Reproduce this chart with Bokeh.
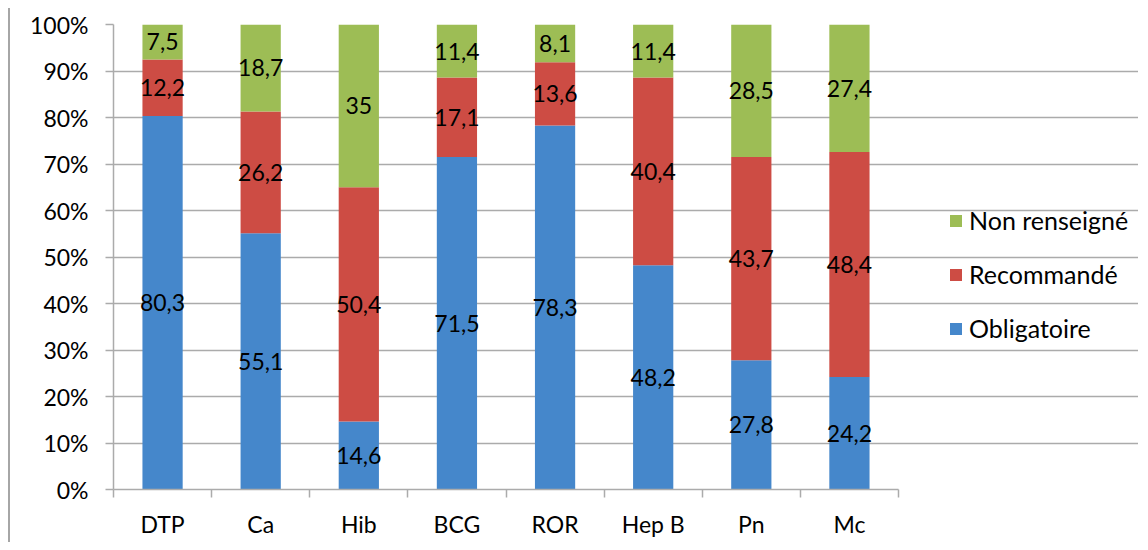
import numpy as np
from bokeh.plotting import figure
from bokeh.models import (ColumnDataSource, FixedTicker, Legend, LegendItem,
                          Range1d)
from bokeh.core.properties import value
from bokeh.embed import file_html
from bokeh.resources import INLINE

categories = ["DTP", "Ca", "Hib", "BCG", "ROR", "Hep B", "Pn", "Mc"]
obligatoire = [80.3, 55.1, 14.6, 71.5, 78.3, 48.2, 27.8, 24.2]
recommande = [12.2, 26.2, 50.4, 17.1, 13.6, 40.4, 43.7, 48.4]
non_renseigne = [7.5, 18.7, 35.0, 11.4, 8.1, 11.4, 28.5, 27.4]
series_names = ["Obligatoire", "Recommandé", "Non renseigné"]
y_ticks = [0, 10, 20, 30, 40, 50, 60, 70, 80, 90, 100]

colors = ["#4587CB", "#CD4C44", "#9DBD55"]
FONT = "Lato"
FS = "23px"

W, H = 1130, 534
LEFT, PLOT_W = 103, 785          # plotting area of the categories, in px
n = len(categories)
x_end = n * (W - LEFT) / PLOT_W  # extra room on the right for the legend

xpos = np.arange(n) + 0.5
src = ColumnDataSource(dict(x=xpos, Obligatoire=obligatoire,
                            Recommande=recommande, Non=non_renseigne))

p = figure(width=W, height=H, output_backend="svg", toolbar_location=None,
           x_range=Range1d(0, x_end), y_range=Range1d(0, 100),
           min_border_left=LEFT, min_border_right=0,
           min_border_top=16, min_border_bottom=53)
p.styles = {"margin-left": "8px", "margin-top": "8px",
            "border-left": "2px solid #A6A6A6"}
p.outline_line_color = None
p.xgrid.visible = False
p.ygrid.grid_line_color = "#ABABAB"
p.ygrid.grid_line_width = 1.5
p.ygrid.ticker = FixedTicker(ticks=y_ticks)
p.ygrid.bounds = (0, n)

rs = p.vbar_stack(["Obligatoire", "Recommande", "Non"], x="x", width=0.41,
                  source=src, fill_color=colors, line_color=None)

# data labels centred in each segment
vals = np.array([obligatoire, recommande, non_renseigne])
cum = np.cumsum(vals, axis=0)
mids = cum - vals / 2
def fmt(v):
    s = ("%.1f" % v).rstrip("0").rstrip(".")
    return s.replace(".", ",")
lx, ly, lt = [], [], []
for k in range(3):
    for i in range(n):
        lx.append(xpos[i]); ly.append(mids[k, i]); lt.append(fmt(vals[k, i]))
p.text(x=lx, y=ly, text=lt, text_align="center", text_baseline="middle",
       text_font=value(FONT), text_font_size=FS, text_color="black")

# y axis
p.yaxis.ticker = FixedTicker(ticks=y_ticks)
p.yaxis.major_label_overrides = {t: f"{t}%" for t in y_ticks}
p.yaxis.axis_line_color = "#ABABAB"
p.yaxis.axis_line_width = 1.5
p.yaxis.major_tick_line_color = "#ABABAB"
p.yaxis.major_tick_line_width = 1.5
p.yaxis.major_tick_out = 8
p.yaxis.major_tick_in = 0
p.yaxis.minor_tick_line_color = None
p.yaxis.major_label_standoff = 17
p.yaxis.major_label_text_font = FONT
p.yaxis.major_label_text_font_size = FS
p.yaxis.major_label_text_color = "black"

# x axis: labels at centres, ticks between categories
p.xaxis.bounds = (0, n)
p.xaxis.ticker = FixedTicker(ticks=list(xpos), minor_ticks=list(range(n + 1)))
p.xaxis.major_label_overrides = {float(x): c for x, c in zip(xpos, categories)}
p.xaxis.axis_line_color = "#ABABAB"
p.xaxis.axis_line_width = 1.5
p.xaxis.major_tick_line_color = None
p.xaxis.major_tick_out = 0
p.xaxis.major_tick_in = 0
p.xaxis.minor_tick_line_color = "#ABABAB"
p.xaxis.minor_tick_line_width = 1.5
p.xaxis.minor_tick_out = 8
p.xaxis.minor_tick_in = 0
p.xaxis.major_label_standoff = 12
p.xaxis.major_label_text_font = FONT
p.xaxis.major_label_text_font_size = FS
p.xaxis.major_label_text_color = "black"

items = [LegendItem(label=series_names[k], renderers=[rs[k]]) for k in (2, 1, 0)]
legend = Legend(items=items, location=(835, 146), padding=0, spacing=24,
                glyph_width=15, glyph_height=15, label_height=25,
                label_standoff=6, border_line_color=None,
                background_fill_alpha=0, label_text_font=FONT,
                label_text_font_size="25px", label_text_color="black")
p.add_layout(legend, "center")

open("out.html", "w").write(file_html(p, INLINE))
